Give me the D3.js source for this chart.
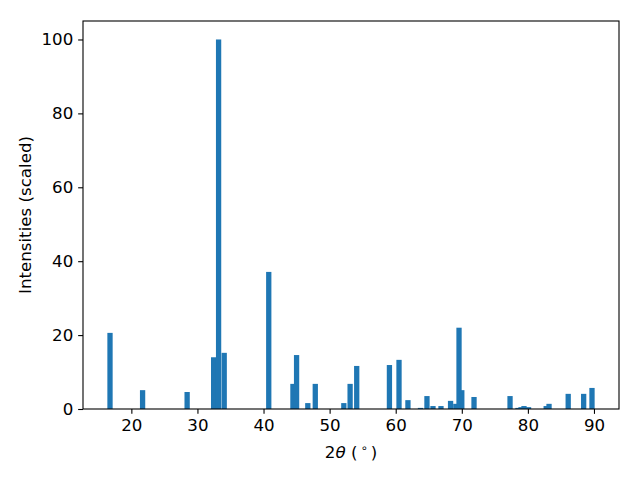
<!DOCTYPE html>
<html>
<head>
<meta charset="utf-8">
<script src="https://cdn.jsdelivr.net/npm/d3@7"></script>
<style>
  html, body { margin: 0; padding: 0; background: #fff; }
  svg { display: block; font-family: "DejaVu Sans", sans-serif; }
</style>
</head>
<body>
<svg id="chart" width="640" height="480"></svg>
<script>
// 2θ positions (degrees)
const twoTheta = [16.77, 21.7, 28.44, 32.45, 33.2, 34.05, 40.79, 44.45, 45.0, 46.7, 47.83,
  52.15, 53.1, 54.1, 59.05, 60.5, 61.85, 63.75, 64.73, 65.64, 66.85, 68.3, 69.1, 69.58, 70.0,
  71.85, 77.3, 78.5, 78.96, 79.41, 80.1, 82.77, 83.2, 86.1, 88.44, 89.7];
// scaled intensities
const intensities = [20.6, 5.1, 4.6, 14.0, 100, 15.2, 37.1, 6.8, 14.6, 1.6, 6.8,
  1.6, 6.8, 11.65, 11.9, 13.3, 2.4, 0.3, 3.5, 0.8, 0.8, 2.2, 1.4, 22.0, 5.1,
  3.25, 3.5, 0.3, 0.5, 0.8, 0.5, 0.8, 1.4, 4.1, 4.1, 5.7];
const xTicks = [20, 30, 40, 50, 60, 70, 80, 90];
const yTicks = [0, 20, 40, 60, 80, 100];
const barWidth = 0.8;

(function () {
const data = twoTheta.map((t, i) => ({ t, v: intensities[i] }));

const svg = d3.select("#chart");
const mLeft = 83, mRight = 619, mTop = 21, mBottom = 409;

// matplotlib-style 5% margins on x around bar edges
const xMin = d3.min(twoTheta) - barWidth / 2, xMax = d3.max(twoTheta) + barWidth / 2;
const pad = (xMax - xMin) * 0.05;
const x = d3.scaleLinear().domain([xMin - pad, xMax + pad]).range([mLeft, mRight]);
const y = d3.scaleLinear().domain([0, d3.max(intensities) * 1.05]).range([mBottom, mTop]);

svg.append("g").selectAll("rect").data(data).join("rect")
  .attr("x", d => x(d.t - barWidth / 2))
  .attr("width", d => x(d.t + barWidth / 2) - x(d.t - barWidth / 2))
  .attr("y", d => y(d.v))
  .attr("height", d => y(0) - y(d.v))
  .attr("fill", "#1f77b4");

const fs = "16.67px";
const xAxis = svg.append("g").attr("transform", `translate(0,${mBottom})`)
  .call(d3.axisBottom(x).tickValues(xTicks).tickSize(4.86).tickPadding(4.86).tickFormat(d3.format("d")));
const yAxis = svg.append("g").attr("transform", `translate(${mLeft},0)`)
  .call(d3.axisLeft(y).tickValues(yTicks).tickSize(4.86).tickPadding(4.86).tickFormat(d3.format("d")));
[xAxis, yAxis].forEach(a => {
  a.select(".domain").remove();
  a.selectAll(".tick line").attr("stroke", "#000").attr("stroke-width", 1.1);
  a.selectAll(".tick text").attr("font-size", fs).attr("font-family", "DejaVu Sans").attr("fill", "#000");
});

// frame
svg.append("rect").attr("x", mLeft).attr("y", mTop)
  .attr("width", mRight - mLeft).attr("height", mBottom - mTop)
  .attr("fill", "none").attr("stroke", "#000").attr("stroke-width", 1.1);

// x label: 2θ (°)
const xl = svg.append("text").attr("x", (mLeft + mRight) / 2).attr("y", 458)
  .attr("text-anchor", "middle").attr("font-size", fs).attr("fill", "#000");
xl.append("tspan").text("2");
xl.append("tspan").attr("font-style", "italic").text("θ");
xl.append("tspan").text(" (");
xl.append("tspan").attr("font-size", "11.5px").attr("dy", -6).attr("dx", 3).text("∘");
xl.append("tspan").attr("dy", 6).attr("dx", 3).text(")");

// y label
svg.append("text").attr("transform", `translate(31,${(mTop + mBottom) / 2}) rotate(-90)`)
  .attr("text-anchor", "middle").attr("font-size", fs).attr("fill", "#000")
  .text("Intensities (scaled)");
})();
</script>
</body>
</html>
